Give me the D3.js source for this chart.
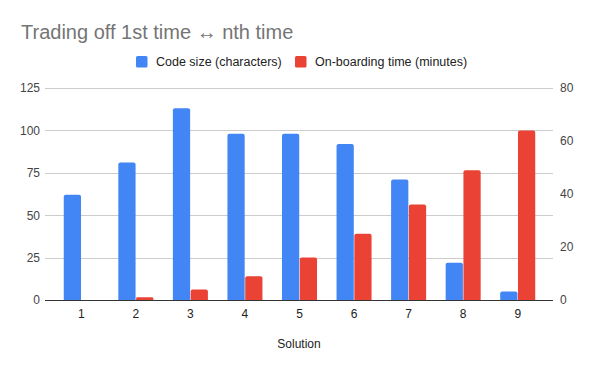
<!DOCTYPE html>
<html>
<head>
<meta charset="utf-8">
<script src="https://cdn.jsdelivr.net/npm/d3@7"></script>
<style>
  body { margin: 0; background: #fff; }
  svg { display: block; font-family: "Liberation Sans", Arial, sans-serif; }
</style>
</head>
<body>
<svg id="chart"></svg>
<script>
// Data
const solutions = ["1", "2", "3", "4", "5", "6", "7", "8", "9"];
const codeSize = [62, 81, 113, 98, 98, 92, 71, 22, 5];
const onboardingTime = [0, 1, 4, 9, 16, 25, 36, 49, 64];
const leftTicks = [0, 25, 50, 75, 100, 125];
const rightTicks = [0, 20, 40, 60, 80];
const seriesNames = ["Code size (characters)", "On-boarding time (minutes)"];
const colors = ["#4285f4", "#ea4335"];

const width = 600, height = 371;
const plot = { left: 45, right: 553, top: 88, bottom: 300 };

const svg = d3.select("#chart").attr("width", width).attr("height", height);

// Scales
const x = d3.scaleBand().domain(solutions).range([54, 545]).paddingInner(0.358).paddingOuter(0.179);
const sub = d3.scaleBand().domain([0, 1]).range([0, x.bandwidth()]).paddingInner(0.03);
const yLeft = d3.scaleLinear().domain([0, 125]).range([plot.bottom, plot.top]);
const yRight = d3.scaleLinear().domain([0, 80]).range([plot.bottom, plot.top]);

// Title
svg.append("text")
  .attr("x", 21)
  .attr("y", 39)
  .attr("fill", "#757575")
  .attr("font-size", 20)
  .text("Trading off 1st time \u2194 nth time");

// Legend
const legend = [
  { x: 136, tx: 156, name: seriesNames[0], color: colors[0] },
  { x: 295, tx: 315, name: seriesNames[1], color: colors[1] },
];
legend.forEach((d) => {
  svg.append("rect").attr("x", d.x).attr("y", 56).attr("width", 11.5).attr("height", 11.5)
    .attr("rx", 1.5).attr("fill", d.color);
  svg.append("text").attr("x", d.tx).attr("y", 66).attr("font-size", 12.5)
    .attr("fill", "#222").text(d.name);
});

// Gridlines (left axis)
svg.append("g")
  .selectAll("line")
  .data(leftTicks.filter((t) => t > 0))
  .enter()
  .append("line")
  .attr("x1", plot.left)
  .attr("x2", plot.right)
  .attr("y1", (d) => Math.round(yLeft(d)) + 0.5)
  .attr("y2", (d) => Math.round(yLeft(d)) + 0.5)
  .attr("stroke", "#cccccc")
  .attr("stroke-width", 1);

// Left axis labels
const leftAxis = svg.append("g")
  .attr("transform", `translate(${plot.left},0)`)
  .call(d3.axisLeft(yLeft).tickValues(leftTicks).tickSize(0).tickPadding(5));
leftAxis.select(".domain").remove();
leftAxis.selectAll("text").attr("font-size", 12).attr("fill", "#444")
  .attr("font-family", "Liberation Sans, Arial, sans-serif");

// Right axis labels
const rightAxis = svg.append("g")
  .attr("transform", `translate(${plot.right},0)`)
  .call(d3.axisRight(yRight).tickValues(rightTicks).tickSize(0).tickPadding(7));
rightAxis.select(".domain").remove();
rightAxis.selectAll("text").attr("font-size", 12).attr("fill", "#444")
  .attr("font-family", "Liberation Sans, Arial, sans-serif");

// Bars with slightly rounded tops
function barPath(x0, w, yTop, yBase) {
  const r = Math.min(2, (yBase - yTop) / 2, w / 2);
  return `M${x0},${yBase}V${yTop + r}Q${x0},${yTop} ${x0 + r},${yTop}` +
    `H${x0 + w - r}Q${x0 + w},${yTop} ${x0 + w},${yTop + r}V${yBase}Z`;
}

const series = [
  { values: codeSize, scale: yLeft, color: colors[0], idx: 0 },
  { values: onboardingTime, scale: yRight, color: colors[1], idx: 1 },
];
series.forEach((s) => {
  svg.append("g")
    .selectAll("path")
    .data(solutions.map((c, i) => ({ c, v: s.values[i] })).filter((d) => d.v > 0))
    .enter()
    .append("path")
    .attr("fill", s.color)
    .attr("d", (d) => barPath(x(d.c) + sub(s.idx), sub.bandwidth(), s.scale(d.v), plot.bottom));
});

// Baseline
svg.append("line")
  .attr("x1", plot.left).attr("x2", plot.right)
  .attr("y1", plot.bottom + 0.5).attr("y2", plot.bottom + 0.5)
  .attr("stroke", "#333").attr("stroke-width", 1);

// X axis labels
const xAxis = svg.append("g")
  .attr("transform", `translate(0,${plot.bottom})`)
  .call(d3.axisBottom(x).tickSize(0).tickPadding(9));
xAxis.select(".domain").remove();
xAxis.selectAll("text").attr("font-size", 12).attr("fill", "#222")
  .attr("font-family", "Liberation Sans, Arial, sans-serif");

// X axis title
svg.append("text")
  .attr("x", (plot.left + plot.right) / 2)
  .attr("y", 348)
  .attr("text-anchor", "middle")
  .attr("font-size", 12)
  .attr("fill", "#222")
  .text("Solution");
</script>
</body>
</html>
